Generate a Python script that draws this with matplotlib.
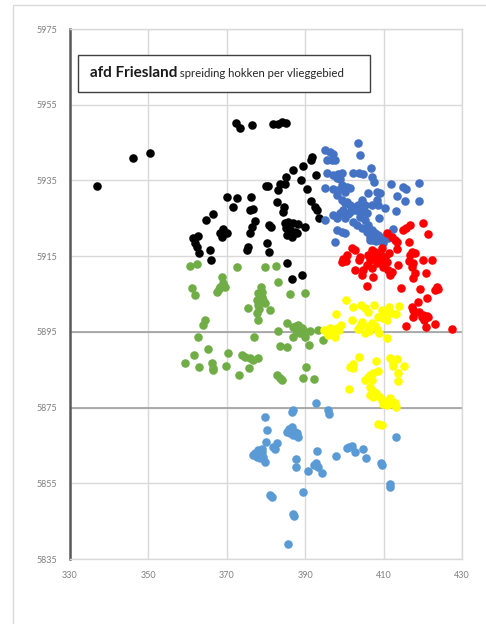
import matplotlib
matplotlib.use("Agg")
import matplotlib.pyplot as plt
from matplotlib.patches import Rectangle

plt.rcParams['font.family'] = ['Lato', 'DejaVu Sans']

x_ticks = [330, 350, 370, 390, 410, 430]
y_ticks = [5835, 5855, 5875, 5895, 5915, 5935, 5955, 5975]
dark_lines = [5895, 5875]

black_x = [336.9, 346.1, 350.4, 372.3, 373.4, 376.4, 381.8, 383.1, 384.1, 385.1,
           391.7, 391.5, 389.4, 386.9, 385.1, 388.9, 392.8,
           380.0, 380.5, 383.6, 384.8, 383.1, 390.5,
           370.1, 372.6, 376.2, 382.8, 391.5,
           371.6, 375.9, 376.7, 384.6, 384.3, 392.5, 393.0,
           366.5, 364.7, 377.2, 393.5, 380.8, 381.3,
           384.8, 385.6, 386.9, 388.2, 389.9,
           385.1, 386.1, 387.4, 385.4, 386.6, 387.9,
           376.4, 375.9, 369.0, 368.3, 370.1, 368.8,
           362.7, 361.4, 361.9, 362.4, 362.9,
           380.3, 380.8, 375.4, 375.2, 365.7, 366.0,
           385.4, 389.2, 386.6]
black_y = [5933.5, 5940.9, 5942.2, 5950.2, 5948.9, 5949.6, 5949.9, 5949.9, 5950.4, 5950.2,
           5941.2, 5940.4, 5938.8, 5937.8, 5935.9, 5935.1, 5936.4,
           5933.5, 5933.5, 5934.1, 5934.1, 5932.5, 5932.7,
           5930.6, 5930.4, 5930.6, 5929.3, 5929.6,
           5928.0, 5927.2, 5927.5, 5928.0, 5926.7, 5928.0, 5927.2,
           5926.1, 5924.5, 5924.3, 5925.1, 5923.2, 5922.7,
           5923.8, 5924.0, 5923.8, 5923.5, 5922.7,
           5922.4, 5921.9, 5921.4, 5920.6, 5920.1, 5921.1,
           5922.7, 5921.1, 5922.2, 5921.1, 5921.1, 5920.1,
           5920.3, 5919.8, 5918.5, 5917.4, 5915.8,
           5918.5, 5916.1, 5917.4, 5916.6, 5916.6, 5914.0,
           5913.2, 5910.0, 5909.0]

blue_top_x = [403.5, 404.0, 395.1, 396.3, 397.1, 395.6, 396.8, 397.6,
              395.6, 397.1, 398.4, 399.4, 398.1, 398.9,
              402.2, 403.7, 404.7, 406.8, 407.0,
              395.1, 397.1, 398.4, 400.7, 401.4, 399.4, 400.2,
              407.6, 408.3, 406.0, 409.1, 411.9, 414.9, 415.7, 419.0,
              413.4, 415.5, 419.0,
              398.1, 399.4, 400.7, 401.4, 402.2, 399.6, 401.4, 400.2, 402.7,
              404.5, 405.3, 404.7, 405.8, 407.0, 403.5, 404.0,
              408.3, 408.6, 410.4, 408.8, 413.2,
              397.1, 398.1, 398.9, 400.2, 400.9,
              395.1, 405.3, 406.0, 407.0, 407.8, 409.1, 406.5, 405.8, 408.6, 407.3, 406.5, 408.1,
              398.1, 399.4, 400.2,
              412.4, 411.1, 410.4, 397.6, 404.0, 402.2, 403.2, 404.5, 409.8]
blue_top_y = [5944.9, 5941.7, 5943.0, 5942.5, 5942.0, 5940.4, 5940.4, 5940.4,
              5937.0, 5936.4, 5936.7, 5937.0, 5935.6, 5935.4,
              5937.0, 5937.0, 5936.7, 5938.3, 5935.9,
              5933.0, 5932.7, 5932.5, 5933.3, 5933.0, 5933.8, 5931.9,
              5934.6, 5931.9, 5931.7, 5931.7, 5934.1, 5933.3, 5932.7, 5934.3,
              5930.9, 5929.6, 5929.6,
              5931.2, 5929.8, 5929.3, 5928.5, 5928.0, 5927.2, 5926.7, 5929.0, 5927.2,
              5929.8, 5928.5, 5927.2, 5926.4, 5928.5, 5928.5, 5926.4,
              5929.8, 5928.5, 5927.7, 5925.1, 5926.9,
              5925.9, 5925.1, 5926.4, 5925.1, 5926.1,
              5924.5, 5924.5, 5923.2, 5921.9, 5921.1, 5920.1, 5920.1, 5921.4, 5920.6, 5919.3, 5919.3, 5919.0,
              5921.9, 5921.4, 5921.1,
              5922.2, 5919.8, 5919.8, 5918.7, 5925.3, 5924.0, 5923.2, 5922.4, 5918.5]

red_x = [416.7, 415.7, 414.9, 420.1, 421.3, 410.9, 412.1, 412.9, 413.4, 416.5, 413.4, 411.4, 417.2, 418.0, 416.7,
         401.9, 402.7, 400.7, 399.6, 399.4, 400.4, 404.0, 403.7,
         407.0, 407.8, 409.6, 407.3, 408.6, 406.5, 408.3, 409.6, 410.4, 410.9, 409.8, 407.8, 409.1, 406.0,
         405.8, 407.0, 404.7, 411.1, 411.6, 412.1, 413.7, 416.5, 417.5, 417.2, 420.1, 422.3,
         418.0, 420.8, 402.7, 404.5, 407.3, 417.5, 405.8, 414.4, 419.3, 423.6, 423.9, 423.1,
         421.1, 418.8, 417.2, 417.5, 420.1, 421.1, 421.3, 419.8, 417.5, 423.1, 415.7, 420.8, 427.4, 419.0, 420.3]
red_y = [5923.2, 5922.4, 5921.9, 5923.8, 5920.9, 5921.1, 5920.1, 5919.3, 5918.7, 5918.7, 5916.9, 5915.8, 5916.1, 5915.8, 5915.3,
         5917.2, 5916.6, 5915.3, 5914.2, 5913.5, 5913.7, 5914.8, 5914.0,
         5916.6, 5916.1, 5917.2, 5914.8, 5914.5, 5914.0, 5913.2, 5914.0, 5914.8, 5913.5, 5912.1, 5915.3, 5915.8, 5915.3,
         5912.7, 5911.9, 5911.3, 5911.3, 5910.0, 5910.8, 5912.7, 5913.7, 5913.2, 5912.1, 5914.0, 5914.0,
         5910.6, 5910.6, 5911.3, 5910.0, 5909.5, 5909.2, 5907.1, 5906.6, 5906.3, 5906.9, 5906.3, 5906.1,
         5904.0, 5902.9, 5901.6, 5900.8, 5899.5, 5899.2, 5898.9, 5898.9, 5898.9, 5897.1, 5896.6, 5896.3, 5895.8, 5900.3, 5898.1]

green_x = [360.6, 362.4, 372.6, 379.7, 382.6,
           368.8, 369.0, 368.3, 369.5, 367.5, 368.0,
           361.1, 361.9,
           378.7, 378.0, 379.0, 377.7, 378.5, 379.2, 378.0, 379.7, 379.0, 378.2,
           383.1, 386.1, 389.9,
           375.4, 381.0, 377.7, 378.0,
           364.4, 363.9,
           385.4, 383.1,
           386.9, 388.2, 389.2, 387.9, 388.7, 389.4, 386.9, 389.9, 388.7, 387.7,
           391.2, 393.3, 394.5,
           362.7, 376.9, 383.6, 385.4, 391.0,
           365.2, 361.6, 359.3, 370.3,
           373.9, 374.6, 375.9, 378.0, 376.7,
           366.2, 366.5, 366.5, 362.9, 369.8, 375.7, 373.1,
           382.8, 383.6, 384.1, 390.2, 389.4, 392.2]
green_y = [5912.4, 5912.9, 5912.1, 5912.1, 5912.4,
           5909.5, 5907.9, 5906.9, 5906.9, 5905.5, 5906.3,
           5906.6, 5904.7,
           5906.9, 5905.3, 5904.2, 5903.4, 5902.9, 5903.4, 5902.1, 5902.6, 5905.5, 5901.0,
           5908.2, 5905.0, 5905.3,
           5901.3, 5900.8, 5900.0, 5898.1,
           5898.1, 5896.8,
           5897.3, 5895.2,
           5896.3, 5896.8, 5896.0, 5895.0, 5894.7, 5895.5, 5893.6, 5893.6, 5895.8, 5896.6,
           5895.2, 5895.5, 5892.9,
           5893.6, 5893.6, 5891.3, 5891.0, 5891.5,
           5890.5, 5888.9, 5886.8, 5889.4,
           5888.9, 5888.4, 5888.1, 5888.1, 5887.6,
           5886.8, 5885.5, 5884.9, 5885.7, 5886.0, 5885.5, 5883.6,
           5883.6, 5882.8, 5882.3, 5885.7, 5882.8, 5882.6]

yellow_x = [400.4, 402.2, 404.2, 405.3, 406.0, 407.6, 397.9,
            409.6, 410.4, 411.4, 411.9, 413.2, 413.9, 408.6, 409.8, 410.9,
            401.9, 404.5, 404.0, 406.0, 407.8, 408.3, 408.8, 407.0,
            399.1, 398.1, 396.3, 395.6, 397.1, 397.6, 394.8, 395.8, 398.6,
            403.5, 405.3, 406.3, 410.9,
            403.7, 402.2, 401.4, 402.2, 408.1,
            411.6, 412.4, 413.4, 412.4, 415.2,
            408.6, 407.3, 406.5, 406.0, 405.3, 407.0,
            413.7, 413.7, 401.2,
            406.5, 407.0, 406.5, 407.3, 409.1, 409.6, 410.4, 410.9, 411.6, 412.4, 412.9, 413.2, 408.1, 409.8, 411.4,
            408.6, 409.6]
yellow_y = [5903.4, 5901.6, 5902.1, 5901.3, 5900.3, 5902.1, 5899.7,
            5900.8, 5900.3, 5901.6, 5900.0, 5899.7, 5901.8, 5898.9, 5898.7, 5898.1,
            5898.1, 5897.6, 5896.6, 5896.3, 5896.6, 5895.8, 5894.7, 5897.3,
            5896.8, 5896.0, 5896.0, 5895.0, 5894.7, 5893.6, 5895.5, 5894.2, 5895.5,
            5895.8, 5894.7, 5895.2, 5893.4,
            5888.4, 5886.5, 5885.7, 5885.5, 5887.3,
            5888.1, 5887.0, 5887.8, 5886.0, 5886.0,
            5884.7, 5884.1, 5883.6, 5883.1, 5882.3, 5882.3,
            5884.1, 5882.0, 5879.9,
            5880.4, 5879.7, 5878.3, 5877.8, 5877.8, 5877.0, 5876.5, 5875.7, 5877.5, 5876.5, 5876.2, 5875.2, 5878.9, 5876.0, 5876.0,
            5870.7, 5870.4]

blue_bot_x = [392.8, 386.9, 386.6, 395.8, 396.1, 379.7, 380.3,
              386.6, 385.4, 386.1, 387.4, 386.9, 388.2, 387.9, 385.9,
              413.2, 380.0, 382.8, 382.3, 381.8,
              377.2, 378.0, 379.0, 377.7, 378.5, 379.2, 379.7, 376.7, 378.2, 379.0,
              393.0, 387.7, 387.7, 390.7, 392.8, 393.3, 394.3, 392.2,
              397.9, 400.7, 401.9, 402.7, 404.7, 405.5, 401.2,
              409.3, 409.6, 411.6, 411.6, 381.0, 381.5, 389.4, 386.9, 387.1, 385.6]
blue_bot_y = [5876.2, 5874.4, 5873.8, 5874.4, 5873.3, 5872.5, 5869.1,
              5869.9, 5868.6, 5868.3, 5868.6, 5867.8, 5867.2, 5868.3, 5869.3,
              5867.2, 5865.9, 5865.6, 5864.1, 5864.6,
              5863.0, 5863.8, 5863.3, 5862.0, 5861.7, 5862.0, 5860.6, 5862.5, 5862.5, 5864.1,
              5863.5, 5861.4, 5859.3, 5858.3, 5860.4, 5859.3, 5857.7, 5859.8,
              5862.2, 5864.3, 5864.9, 5863.3, 5864.1, 5861.7, 5864.6,
              5860.4, 5859.8, 5854.8, 5854.0, 5851.9, 5851.4, 5852.7, 5846.9, 5846.4, 5839.0]

title_bold = "afd Friesland"
title_rest = " spreiding hokken per vlieggebied"

W, H = 486, 624
fig = plt.figure(figsize=(W / 100, H / 100), dpi=100)
fig.patch.set_facecolor('white')

# outer chart-area border
fig.patches.append(Rectangle((13 / W, -0.1), 1.2, 1 - 5 / H + 0.1, transform=fig.transFigure,
                             fill=False, edgecolor='#D9D9D9', linewidth=1.0))

ax = fig.add_axes([70 / W, 1 - 559 / H, (462 - 70) / W, (559 - 29) / H])
ax.set_xlim(x_ticks[0], x_ticks[-1])
ax.set_ylim(y_ticks[0], y_ticks[-1])
ax.set_xticks(x_ticks)
ax.set_yticks(y_ticks)
ax.grid(True, color='#D9D9D9', linewidth=1.0)
ax.set_axisbelow(True)
for yv in dark_lines:
    ax.axhline(yv, color='#A0A0A0', linewidth=1.2, zorder=1)
for side in ['top', 'right', 'bottom']:
    ax.spines[side].set_color('#D9D9D9')
    ax.spines[side].set_linewidth(1.0)
ax.spines['left'].set_color('#595959')
ax.spines['left'].set_linewidth(1.8)
ax.tick_params(length=0, labelsize=6.5, labelcolor='#7F7F7F', pad=9)

s = 38
ax.scatter(black_x, black_y, s=s, color='#000000', linewidths=0, zorder=3)
ax.scatter(green_x, green_y, s=s, color='#70AD47', linewidths=0, zorder=3)
ax.scatter(blue_top_x, blue_top_y, s=s, color='#4472C4', linewidths=0, zorder=3)
ax.scatter(red_x, red_y, s=s, color='#FF0000', linewidths=0, zorder=3)
ax.scatter(yellow_x, yellow_y, s=s, color='#FFFF00', linewidths=0, zorder=3)
ax.scatter(blue_bot_x, blue_bot_y, s=s, color='#5B9BD5', linewidths=0, zorder=3)

# title box
fig.patches.append(Rectangle((78 / W, 1 - 92 / H), (370 - 78) / W, (92 - 55) / H,
                             transform=fig.transFigure, facecolor='white',
                             edgecolor='#404040', linewidth=1.0, zorder=5))
t1 = fig.text(90 / W, 1 - 77 / H, title_bold, fontsize=11, fontweight='bold',
              color='#1A1A1A', va='baseline', ha='left', zorder=6)
fig.canvas.draw()
bb = t1.get_window_extent()
fig.text(bb.x1 / W, 1 - 77 / H, title_rest, fontsize=8.2, color='#262626',
         va='baseline', ha='left', zorder=6)

fig.savefig('out.png', dpi=100)
